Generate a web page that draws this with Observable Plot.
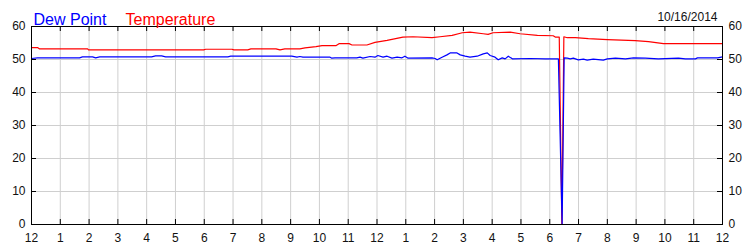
<!DOCTYPE html>
<html><head><meta charset="utf-8">
<script src="https://cdn.jsdelivr.net/npm/d3@7"></script>
<script src="https://cdn.jsdelivr.net/npm/@observablehq/plot@0.6"></script>
<style>html,body{margin:0;padding:0;background:#fff}</style>
</head><body><div id="chart"></div>
<script>
const hourTicks = [0,1,2,3,4,5,6,7,8,9,10,11,12,13,14,15,16,17,18,19,20,21,22,23,24];
const hourLabels = ["12","1","2","3","4","5","6","7","8","9","10","11","12","1","2","3","4","5","6","7","8","9","10","11","12"];
const valueTicks = [0,10,20,30,40,50,60];
const chartDate = "10/16/2014";
const seriesNames = ["Dew Point", "Temperature"];

const tempHours = [0.00,0.21,0.28,1.95,1.98,5.98,6.05,6.96,7.03,7.51,7.62,8.49,8.63,8.80,9.32,9.50,9.88,10.09,10.57,10.68,11.03,11.13,11.65,11.93,12.35,12.90,13.25,13.91,14.19,14.61,14.96,15.23,15.69,15.86,16.03,16.63,16.97,17.57,18.12,18.19,18.33,18.42,18.49,18.61,18.89,19.34,20.00,20.97,21.43,21.95,24.00];
const tempValues = [53.6,53.6,53.2,53.2,52.9,52.9,53.1,53.1,52.9,52.9,53.2,53.2,52.9,53.2,53.2,53.5,53.9,54.2,54.2,54.8,54.8,54.4,54.4,55.2,55.8,56.8,56.9,56.6,56.9,57.3,58.1,58.3,57.8,57.6,58.1,58.3,57.8,57.3,57.2,56.8,56.8,0,56.9,56.6,56.6,56.3,56.0,55.7,55.4,54.8,54.8];

const dewHours = [0.00,0.21,1.67,1.77,2.12,2.23,2.37,4.17,4.31,4.52,4.66,6.82,6.92,9.04,9.22,9.32,9.43,10.37,10.43,10.54,11.30,11.41,11.51,11.76,11.93,12.03,12.21,12.35,12.52,12.70,12.87,12.97,13.08,13.91,14.02,14.09,14.26,14.43,14.54,14.78,14.89,15.06,15.23,15.48,15.69,15.83,15.93,16.10,16.21,16.35,16.45,16.56,16.70,17.32,17.84,18.30,18.43,18.50,18.61,18.71,18.82,18.99,19.17,19.30,19.51,19.86,20.00,20.28,20.63,20.91,21.32,21.77,22.47,22.71,23.06,23.13,23.83,24.00];
const dewValues = [50.3,50.5,50.5,50.8,50.8,50.5,50.8,50.8,51.1,51.1,50.8,50.8,51.0,51.0,50.7,50.9,50.7,50.7,50.4,50.5,50.5,50.7,50.4,50.9,50.7,51.2,50.7,51.0,50.4,50.7,50.5,51.0,50.4,50.5,50.3,49.9,50.7,51.4,52.0,52.0,51.4,51.0,50.7,51.0,51.7,52.0,51.2,50.7,49.9,50.5,50.2,51.0,50.2,50.3,50.2,50.2,0,50.5,50.4,50.2,50.4,49.9,50.1,49.8,50.1,49.8,50.2,50.4,50.2,50.5,50.4,50.2,50.4,50.2,50.2,50.5,50.5,50.8];

const temp = tempHours.map((h, i) => ({hour: h, value: tempValues[i]}));
const dew = dewHours.map((h, i) => ({hour: h, value: dewValues[i]}));

const W = 750, H = 250, mL = 31, mR = 28, mT = 26, mB = 26;
const innerW = W - mL - mR, innerH = H - mT - mB;
const tickLen = 5;
const ink = "#111";

const chart = Plot.plot({
  width: W, height: H,
  marginLeft: mL, marginRight: mR, marginTop: mT, marginBottom: mB,
  style: {fontFamily: "'Liberation Sans', Arial, sans-serif", fontSize: "12px", color: ink, background: "#fff"},
  x: {domain: [0, 24], label: null},
  y: {domain: [0, 60], label: null},
  marks: [
    Plot.gridX(hourTicks, {stroke: "#cfcfcf", strokeOpacity: 1}),
    Plot.gridY(valueTicks, {stroke: "#cfcfcf", strokeOpacity: 1}),
    Plot.line(temp, {x: "hour", y: "value", stroke: "#ff0000", strokeWidth: 1.2}),
    Plot.line(dew, {x: "hour", y: "value", stroke: "#0000ff", strokeWidth: 1.2}),
    Plot.frame({stroke: "#000"}),
    Plot.tickX(hourTicks, {x: d => d, stroke: "#000", insetTop: innerH - tickLen}),
    Plot.tickX(hourTicks, {x: d => d, stroke: "#000", insetBottom: innerH - tickLen}),
    Plot.tickY(valueTicks, {y: d => d, stroke: "#000", insetRight: innerW - tickLen}),
    Plot.tickY(valueTicks, {y: d => d, stroke: "#000", insetLeft: innerW - tickLen}),
    Plot.axisX(hourTicks, {anchor: "bottom", tickSize: 0, tickPadding: 9, label: null, fill: ink, fontSize: 12, tickFormat: d => hourLabels[hourTicks.indexOf(d)]}),
    Plot.axisY(valueTicks, {anchor: "left", tickSize: 0, tickPadding: 6, label: null, fill: ink, fontSize: 12}),
    Plot.axisY(valueTicks, {anchor: "right", tickSize: 0, tickPadding: 6, label: null, fill: ink, fontSize: 12}),
    Plot.text([seriesNames[0]], {text: d => d, frameAnchor: "top-left", dx: 2, dy: -13, textAnchor: "start", fill: "#0000ff", fontSize: 16}),
    Plot.text([seriesNames[1]], {text: d => d, frameAnchor: "top-left", dx: 94, dy: -13, textAnchor: "start", fill: "#ff0000", fontSize: 16}),
    Plot.text([chartDate], {text: d => d, frameAnchor: "top-right", dx: -5, dy: -14, textAnchor: "end", fill: ink, fontSize: 12})
  ]
});
document.getElementById("chart").appendChild(chart);
</script>
</body></html>
